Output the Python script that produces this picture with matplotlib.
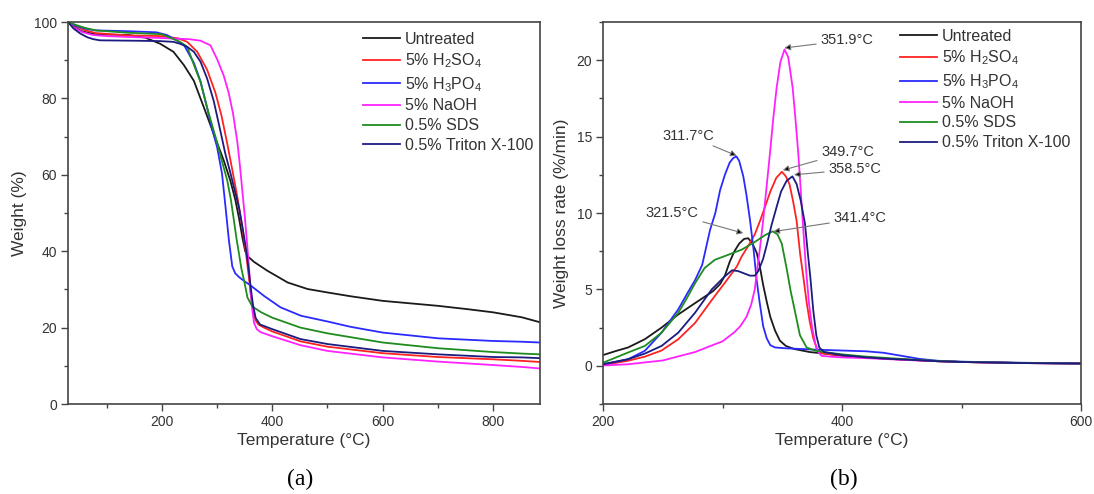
import matplotlib
matplotlib.use('Agg')
import matplotlib.pyplot as plt
from matplotlib.ticker import MultipleLocator

plt.rcParams['font.family'] = ['Liberation Sans', 'DejaVu Sans']
plt.rcParams['mathtext.fontset'] = 'custom'
plt.rcParams['mathtext.rm'] = 'Liberation Sans'

# series names and colours
names = ['Untreated', '5% H$_\\mathregular{2}$SO$_\\mathregular{4}$', '5% H$_\\mathregular{3}$PO$_\\mathregular{4}$',
         '5% NaOH', '0.5% SDS', '0.5% Triton X-100']
colors = ['#1a1a1a', '#ff2222', '#2a2aff', '#ff22ff', '#1e8c1e', '#1c1c80']

# (a) TGA curves: temperature (C) / weight (%)
tga_t_untreated = [30, 40, 55, 75, 100, 140, 170, 197, 221, 240, 258, 276, 294, 312, 324, 333, 340, 346, 351, 356,
                   367, 391, 428, 464, 500, 542, 600, 700, 755, 800, 852, 885]
tga_w_untreated = [100, 98.8, 97.6, 96.9, 96.7, 96.6, 95.9, 94.3, 92.2, 88.7, 84.6, 77.7, 70.7, 63.8, 58.5, 53.5,
                   48.5, 43.5, 40.0, 38.6, 37.2, 34.9, 31.8, 30.1, 29.2, 28.2, 27.0, 25.7, 24.8, 24.0, 22.7, 21.4]

tga_t_h2so4 = [30, 45, 60, 80, 137, 200, 230, 246, 264, 282, 297, 308, 318, 328, 337, 345, 352, 357, 361, 366, 370,
               375, 385, 400, 451, 500, 600, 700, 800, 852, 885]
tga_w_h2so4 = [100, 98.9, 97.9, 97.1, 96.5, 96.3, 95.7, 94.8, 92.2, 87.5, 81.5, 75.5, 68.5, 61.0, 54.0, 47.0, 40.0,
               34.0, 28.8, 24.0, 21.8, 20.8, 20.0, 19.0, 16.4, 15.0, 13.3, 12.3, 11.7, 11.3, 11.0]

tga_t_h3po4 = [30, 45, 60, 80, 137, 190, 209, 227, 240, 258, 270, 282, 291, 300, 309, 315.4, 321.5, 327.6, 333, 340,
               350, 361, 385, 415, 452, 500, 542, 600, 700, 800, 852, 885]
tga_w_h3po4 = [100, 99.0, 98.3, 97.8, 97.6, 97.3, 96.6, 95.2, 94.0, 89.3, 84.5, 77.5, 72.0, 67.3, 60.3, 51.5, 42.8,
               36.0, 34.2, 33.2, 32.1, 31.0, 28.3, 25.3, 23.1, 21.6, 20.2, 18.7, 17.2, 16.5, 16.3, 16.1]

tga_t_naoh = [30, 40, 55, 75, 100, 137, 200, 250, 270, 288, 300, 312, 321, 329, 336.8, 341, 346, 350, 355, 358, 361,
              364, 367, 372, 379, 403, 451, 500, 600, 700, 800, 852, 885]
tga_w_naoh = [100, 98.6, 97.4, 96.6, 96.3, 96.1, 95.8, 95.5, 95.1, 93.9, 90.3, 86.0, 81.5, 76.0, 68.5, 63.0, 55.5,
              49.5, 41.0, 35.5, 29.0, 24.5, 21.2, 19.6, 18.8, 17.6, 15.4, 13.9, 12.2, 11.1, 10.2, 9.7, 9.3]

tga_t_sds = [30, 45, 60, 80, 137, 200, 233, 246, 258, 270, 282, 294, 300, 309, 318.5, 325, 330.6, 335, 339.8, 344,
             349, 355, 364, 380, 400, 451, 500, 600, 700, 800, 852, 885]
tga_w_sds = [100, 99.2, 98.5, 97.8, 97.2, 96.8, 94.8, 93.5, 88.8, 84.3, 77.6, 71.5, 68.5, 63.5, 58.5, 53.5, 48.0,
             43.5, 39.3, 35.5, 32.3, 27.9, 25.5, 24.0, 22.6, 20.0, 18.5, 16.1, 14.6, 13.6, 13.2, 13.0]

tga_t_triton = [30, 40, 52, 65, 76, 88, 150, 197, 221, 233, 246, 258, 270, 282, 294, 306, 315, 324.5, 333, 340, 347,
                352, 357, 361, 365, 370, 378, 400, 451, 500, 600, 700, 800, 852, 885]
tga_w_triton = [100, 98.3, 97.0, 96.0, 95.5, 95.2, 95.1, 95.0, 94.8, 94.3, 93.5, 92.2, 89.6, 85.2, 79.3, 71.5, 65.5,
                60.3, 55.3, 51.2, 45.5, 41.0, 35.5, 30.5, 26.0, 22.5, 20.8, 19.6, 17.0, 15.7, 13.9, 13.0, 12.3, 12.2,
                12.0]

# (b) DTG curves: temperature (C) / weight loss rate (%/min)
dtg_t_untreated = [200, 210, 221, 235, 249, 263, 277, 292, 298, 302, 306, 310, 314, 318, 321.5, 325, 328.6, 331, 334,
                   337, 340, 344, 348, 353, 360, 373, 385, 400, 420, 440, 460, 480, 500, 550, 600]
dtg_y_untreated = [0.7, 0.95, 1.2, 1.74, 2.5, 3.36, 4.1, 4.88, 5.35, 5.9, 6.8, 7.5, 8.0, 8.3, 8.35, 8.0, 7.4, 6.6,
                   5.3, 4.2, 3.2, 2.3, 1.65, 1.3, 1.1, 0.9, 0.8, 0.65, 0.55, 0.45, 0.38, 0.3, 0.25, 0.18, 0.15]

dtg_t_h2so4 = [200, 221, 235, 249, 263, 277, 291, 305, 312, 316, 322, 327, 331.5, 336, 340, 345, 349.7, 353, 356,
               359, 362, 365, 367.5, 370.5, 373, 376, 379, 382, 390, 400, 420, 440, 460, 480, 500, 550, 600]
dtg_y_h2so4 = [0.05, 0.33, 0.6, 1.0, 1.74, 2.8, 4.3, 5.75, 6.5, 7.15, 7.9, 8.6, 9.5, 10.5, 11.4, 12.3, 12.7, 12.4,
               11.9, 10.8, 9.5, 7.3, 5.9, 4.1, 2.9, 1.8, 1.1, 0.85, 0.75, 0.7, 0.55, 0.45, 0.38, 0.3, 0.25, 0.18, 0.15]

dtg_t_h3po4 = [200, 221, 235, 249, 263, 271, 277, 283, 289.6, 294, 298, 302, 306, 309, 311.7, 314, 317.4, 320, 323,
               326, 328.6, 331, 334, 337, 340, 344, 352, 360, 380, 400, 420, 435, 450, 465, 480, 500, 550, 600]
dtg_y_h3po4 = [0.1, 0.43, 0.98, 2.17, 3.7, 4.8, 5.6, 6.6, 8.9, 10.0, 11.5, 12.5, 13.3, 13.6, 13.7, 13.4, 12.4, 11.2,
               9.55, 7.6, 5.6, 4.2, 2.6, 1.8, 1.35, 1.2, 1.15, 1.12, 1.05, 1.0, 0.95, 0.85, 0.65, 0.45, 0.33, 0.27,
               0.2, 0.15]

dtg_t_naoh = [200, 221, 250, 277, 290, 300, 310, 315, 320, 324, 327, 329, 331.5, 334, 337, 339.7, 342.5, 345.3,
              348.5, 351.9, 355, 358.7, 361, 363.4, 365.3, 367.1, 369.9, 372.5, 375, 377.5, 380, 383, 390, 400, 420,
              440, 460, 480, 500, 550, 600]
dtg_y_naoh = [0.02, 0.1, 0.35, 0.9, 1.3, 1.6, 2.2, 2.6, 3.2, 4.0, 5.0, 6.3, 7.8, 9.5, 11.8, 13.9, 16.2, 18.2, 19.9,
              20.7, 20.2, 18.2, 16.2, 13.9, 11.7, 9.5, 6.3, 4.0, 2.5, 1.5, 0.9, 0.65, 0.6, 0.55, 0.5, 0.43, 0.36,
              0.3, 0.25, 0.18, 0.15]

dtg_t_sds = [200, 221, 235, 249, 263, 270, 277, 285, 293.7, 305, 316, 327, 335.6, 342, 346, 349.6, 353.6, 357, 360,
             364.8, 370.4, 377, 385, 400, 420, 440, 460, 480, 500, 550, 600]
dtg_y_sds = [0.2, 0.87, 1.3, 2.17, 3.47, 4.4, 5.4, 6.4, 6.94, 7.27, 7.6, 8.1, 8.55, 8.8, 8.6, 8.0, 6.4, 4.9, 3.8,
             2.0, 1.2, 1.0, 0.9, 0.75, 0.6, 0.5, 0.4, 0.32, 0.26, 0.19, 0.15]

dtg_t_triton = [200, 221, 235, 249, 263, 277, 291, 302, 308, 313, 318, 323, 327, 330, 334, 337, 341, 345.3, 349,
                353.6, 358.5, 362, 365.5, 369, 371.5, 373.5, 376, 378.5, 381, 385, 400, 420, 440, 460, 480, 500,
                550, 600]
dtg_y_triton = [0.1, 0.43, 0.8, 1.3, 2.17, 3.47, 5.0, 5.86, 6.25, 6.2, 6.05, 5.9, 5.9, 6.2, 7.0, 7.9, 9.2, 10.4,
                11.4, 12.1, 12.4, 11.9, 10.8, 9.3, 7.3, 5.8, 3.6, 2.0, 1.2, 0.9, 0.7, 0.55, 0.45, 0.38, 0.3, 0.25,
                0.18, 0.15]

# peak labels: text, peak point, text position
peak_labels = ['351.9°C', '311.7°C', '349.7°C', '358.5°C', '321.5°C', '341.4°C']
peak_xy = [(351.7, 20.8), (311.9, 13.75), (350.4, 12.8), (359.8, 12.5), (317.4, 8.68), (342.5, 8.78)]
label_xy = [(404, 21.3), (271.4, 15.07), (404.6, 14.0), (410.6, 12.86), (258, 9.98), (415, 9.65)]

tga_t = [tga_t_untreated, tga_t_h2so4, tga_t_h3po4, tga_t_naoh, tga_t_sds, tga_t_triton]
tga_w = [tga_w_untreated, tga_w_h2so4, tga_w_h3po4, tga_w_naoh, tga_w_sds, tga_w_triton]
dtg_t = [dtg_t_untreated, dtg_t_h2so4, dtg_t_h3po4, dtg_t_naoh, dtg_t_sds, dtg_t_triton]
dtg_y = [dtg_y_untreated, dtg_y_h2so4, dtg_y_h3po4, dtg_y_naoh, dtg_y_sds, dtg_y_triton]

W, H = 1094, 494
fig = plt.figure(figsize=(W / 100, H / 100), dpi=100)
ax1 = fig.add_axes([68 / W, (H - 404) / H, 472 / W, 382 / H])
ax2 = fig.add_axes([603 / W, (H - 404) / H, 478 / W, 382 / H])

for i in range(6):
    ax1.plot(tga_t[i], tga_w[i], color=colors[i], lw=1.3, label=names[i])
    ax2.plot(dtg_t[i], dtg_y[i], color=colors[i], lw=1.3, label=names[i])

ax1.set_xlim(30, 885)
ax1.set_ylim(0, 100)
ax1.xaxis.set_major_locator(MultipleLocator(200))
ax1.xaxis.set_minor_locator(MultipleLocator(100))
ax1.yaxis.set_major_locator(MultipleLocator(20))
ax1.yaxis.set_minor_locator(MultipleLocator(10))

ax2.set_xlim(200, 600)
ax2.set_ylim(-2.5, 22.5)
ax2.xaxis.set_major_locator(MultipleLocator(200))
ax2.xaxis.set_minor_locator(MultipleLocator(100))
ax2.yaxis.set_major_locator(MultipleLocator(5))
ax2.yaxis.set_minor_locator(MultipleLocator(2.5))

for ax in (ax1, ax2):
    for s in ax.spines.values():
        s.set_color('#444444')
        s.set_linewidth(1.2)
    ax.tick_params(which='both', direction='out', color='#444444', width=1.0, labelsize=10,
                   labelcolor='#333333', top=False, right=False)
    ax.tick_params(which='major', length=5, pad=3)
    ax.tick_params(which='minor', length=3)
    ax.set_xlabel('Temperature (°C)', fontsize=12.5, color='#333333')
    ax.xaxis.set_label_coords(0.5, -0.076)

ax1.set_ylabel('Weight (%)', fontsize=12.5, color='#333333')
ax1.yaxis.set_label_coords(-0.087, 0.5)
ax2.set_ylabel('Weight loss rate (%/min)', fontsize=12.5, color='#333333')
ax2.yaxis.set_label_coords(-0.071, 0.5)

leg_kw = dict(loc='upper left', frameon=False, fontsize=11.5, handlelength=2.3, handletextpad=0.3,
              labelspacing=0.3, borderpad=0, borderaxespad=0)
leg1 = ax1.legend(bbox_to_anchor=(0.625, 0.975), **leg_kw)
leg2 = ax2.legend(bbox_to_anchor=(0.622, 0.982), **leg_kw)
for leg in (leg1, leg2):
    for txt in leg.get_texts():
        txt.set_color('#333333')

for lab, p, q in zip(peak_labels, peak_xy, label_xy):
    ax2.annotate(lab, xy=p, xytext=q, ha='center', va='center', fontsize=10.5, color='#333333',
                 arrowprops=dict(arrowstyle='-|>', ec='#777777', fc='black', lw=0.8,
                                 mutation_scale=9, shrinkA=1, shrinkB=0))

fig.text(300 / W, 1 - 479 / H, '(a)', family='Liberation Serif', fontsize=17, ha='center', va='center')
fig.text(844 / W, 1 - 479 / H, '(b)', family='Liberation Serif', fontsize=17, ha='center', va='center')

fig.savefig('out.png', dpi=100)
